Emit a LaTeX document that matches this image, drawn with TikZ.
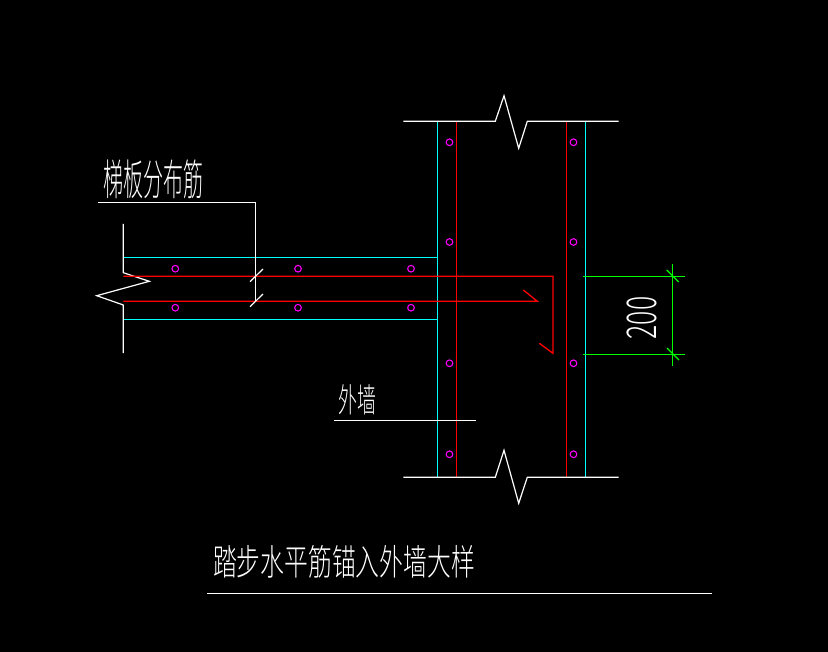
\documentclass[tikz,border=0pt]{standalone}
\usepackage{fontspec}
\newfontfamily\cadcjk{Noto Sans CJK SC Light}
\definecolor{cadcyan}{RGB}{0,255,255}
\definecolor{cadred}{RGB}{255,0,0}
\definecolor{cadgreen}{RGB}{0,255,0}
\definecolor{cadpink}{RGB}{255,0,255}
\tikzset{
  wallface/.style={color=cadcyan, line width=0.8pt},
  rebar/.style={color=cadred, line width=1pt},
  rebardot/.style={color=cadpink, line width=0.8pt},
  outline/.style={color=white, line width=0.9pt},
  dimline/.style={color=cadgreen, line width=1pt},
  cadtext/.style={color=white, inner sep=0pt, font=\cadcjk}
}
\def\bardot(#1,#2){\draw[rebardot] (#1,#2) circle (2.5pt);}

\begin{document}
\begin{tikzpicture}[x=0.75pt, y=-0.75pt]
	%%%%% START %%%%%
	\useasboundingbox (0, 0) rectangle (828, 652);
	\fill[black] (0, 0) rectangle (828, 652);

	% wall
	\draw[wallface] (437.3, 121.3) -- (437.3, 477.3);
	\draw[wallface] (585.3, 121.3) -- (585.3, 477.3);
	\draw[rebar] (456.3, 121.3) -- (456.3, 477.3);
	\draw[rebar] (566.3, 121.3) -- (566.3, 477.3);
	\draw[outline] (403.3, 121.3) -- (495.3, 121.3) -- (504, 95.7) -- (518.7, 148.3) -- (527.3, 121.3) -- (618.7, 121.3);
	\draw[outline] (403.3, 477.3) -- (495.3, 477.3) -- (504, 450.3) -- (518.7, 503.3) -- (527.3, 477.3) -- (618.7, 477.3);

	% stair slab
	\draw[wallface] (123.3, 257.3) -- (437.3, 257.3);
	\draw[wallface] (123.3, 319.3) -- (437.3, 319.3);
	\draw[outline] (123.3, 224) -- (123.3, 272.7) -- (149.3, 281.3) -- (96.7, 295.7) -- (123.3, 305) -- (123.3, 353);

	% slab bars
	\draw[rebar] (123.3, 276.3) -- (553, 276.3) -- (553, 353.3) -- (539.3, 343.3);
	\draw[rebar] (123.3, 301.3) -- (537.3, 301.3) -- (523.3, 290);

	\bardot(175.3, 268.7)
	\bardot(298, 268.7)
	\bardot(411, 268.7)
	\bardot(175.3, 307.7)
	\bardot(298, 307.7)
	\bardot(411, 307.7)

	\bardot(449.5, 142.3)
	\bardot(449.5, 242)
	\bardot(449.5, 363.3)
	\bardot(449.5, 454.3)
	\bardot(573.5, 142.3)
	\bardot(573.5, 242)
	\bardot(573.5, 363.3)
	\bardot(573.5, 454.3)

	% dimension
	\draw[dimline] (583.3, 276.3) -- (685, 276.3);
	\draw[dimline] (583.3, 354.3) -- (685, 354.3);
	\draw[dimline] (672.3, 264) -- (672.3, 365.7);
	\draw[dimline] (666.7, 270) -- (678.7, 282);
	\draw[dimline] (667, 348) -- (679, 360);
	\node[cadtext, rotate=90, xscale=1.42, yscale=2.2] (dimvalue) at (642, 318) {\fontsize{14pt}{14pt}\selectfont 200};

	% leaders and labels
	\draw[outline] (98, 202.3) -- (255.3, 202.3) -- (255.3, 301.5);
	\draw[outline] (250, 281.7) -- (263, 269);
	\draw[outline] (250, 306.7) -- (263, 294);
	\node[cadtext, xscale=1.5, yscale=3.2] (slablabel) at (153, 179) {梯板分布筋};

	\draw[outline] (334, 420.3) -- (476, 420.3);
	\node[cadtext, xscale=1.42, yscale=2.5] (walllabel) at (357, 400) {外墙};

	\node[cadtext, xscale=1.785, yscale=2.7] (titlelabel) at (344, 562) {踏步水平筋锚入外墙大样};
	\draw[outline] (207, 593.3) -- (712, 593.3);
	%%%%% END %%%%%
\end{tikzpicture}
\end{document}
